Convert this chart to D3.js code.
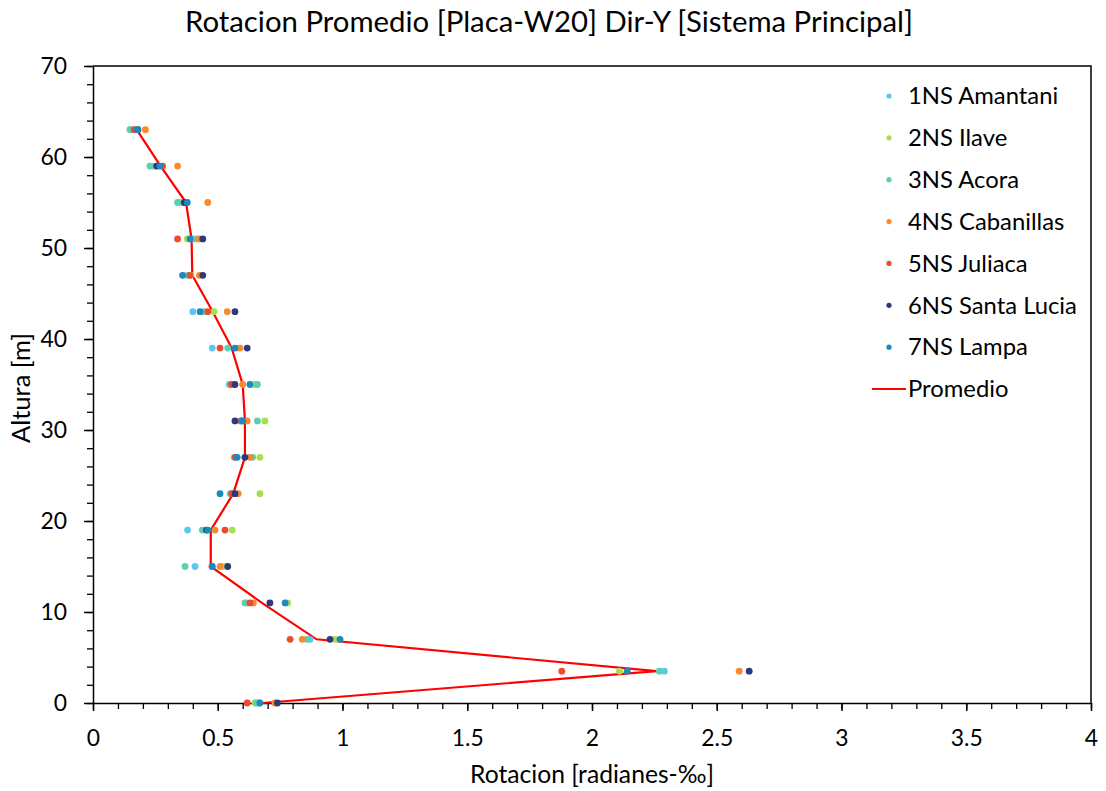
<!DOCTYPE html>
<html>
<head>
<meta charset="utf-8">
<script src="https://cdn.jsdelivr.net/npm/d3@7"></script>
<style>
  body { margin: 0; background: #fff; }
  svg { display: block; }
  text { font-family: Lato, "Open Sans", sans-serif; fill: #000; }
</style>
</head>
<body>
<svg id="chart" width="1106" height="791"></svg>
<script>
// Story heights [m]
const heights = [0, 3.5, 7, 11, 15, 19, 23, 27, 31, 35, 39, 43, 47, 51, 55, 59, 63];

// Rotation per record [radianes-‰], one value per height
const amantani    = [0.665, 2.290, 0.870, 0.615, 0.409, 0.379, 0.550, 0.566, 0.590, 0.546, 0.478, 0.400, 0.385, 0.418, 0.360, 0.240, 0.150];
const ilave       = [0.649, 2.110, 0.970, 0.780, 0.522, 0.558, 0.669, 0.669, 0.689, 0.649, 0.580, 0.485, 0.392, 0.378, 0.350, 0.250, 0.160];
const acora       = [0.655, 2.270, 0.856, 0.609, 0.369, 0.438, 0.560, 0.640, 0.659, 0.659, 0.540, 0.446, 0.378, 0.402, 0.339, 0.228, 0.148];
const cabanillas  = [0.729, 2.590, 0.839, 0.643, 0.509, 0.489, 0.582, 0.629, 0.618, 0.600, 0.589, 0.538, 0.426, 0.426, 0.460, 0.339, 0.210];
const juliaca     = [0.618, 1.879, 0.790, 0.629, 0.477, 0.529, 0.556, 0.570, 0.595, 0.555, 0.509, 0.460, 0.389, 0.339, 0.370, 0.279, 0.165];
const santaLucia  = [0.739, 2.630, 0.950, 0.709, 0.540, 0.455, 0.569, 0.609, 0.569, 0.569, 0.618, 0.569, 0.440, 0.440, 0.366, 0.255, 0.180];
const lampa       = [0.669, 2.141, 0.990, 0.770, 0.478, 0.460, 0.509, 0.578, 0.600, 0.629, 0.569, 0.429, 0.359, 0.389, 0.378, 0.268, 0.178];
const promedio    = [0.680, 2.259, 0.896, 0.677, 0.472, 0.472, 0.562, 0.609, 0.609, 0.600, 0.556, 0.480, 0.398, 0.395, 0.373, 0.271, 0.175];

const seriesNames  = ["1NS Amantani", "2NS Ilave", "3NS Acora", "4NS Cabanillas", "5NS Juliaca", "6NS Santa Lucia", "7NS Lampa"];
const seriesValues = [amantani, ilave, acora, cabanillas, juliaca, santaLucia, lampa];
const seriesColors = ["#5bc8ef", "#a6e04c", "#5ccfae", "#f68a2c", "#ee4a2d", "#2c3a7c", "#1b8bbf"];
const lineName = "Promedio";
const lineColor = "#ff0000";

const xTicks = [0, 0.5, 1, 1.5, 2, 2.5, 3, 3.5, 4];
const yTicks = [0, 10, 20, 30, 40, 50, 60, 70];

const titleText = "Rotacion Promedio [Placa-W20] Dir-Y [Sistema Principal]";
const xTitle = "Rotacion [radianes-\u2030]";
const yTitle = "Altura [m]";

// ---- layout ----
const svg = d3.select("#chart");
const plot = { left: 93, right: 1091, top: 66, bottom: 703 };

const x = d3.scaleLinear().domain([0, 4]).range([plot.left, plot.right]);
const y = d3.scaleLinear().domain([0, 70]).range([plot.bottom, plot.top]);

// size a text element so its rendered width equals the given width
function fitWidth(sel, width) {
  sel.style("font-size", "20px");
  const w = sel.node().getComputedTextLength();
  sel.style("font-size", (20 * width / w).toFixed(2) + "px");
}

// frame (top and right edges)
svg.append("path")
  .attr("d", `M${plot.left},${plot.top}H${plot.right}V${plot.bottom}`)
  .attr("fill", "none").attr("stroke", "#000").attr("stroke-width", 1.5);

// minor ticks
svg.append("g").attr("transform", `translate(${plot.left},0)`)
  .call(d3.axisLeft(y).tickValues(d3.range(0, 71, 2)).tickSize(6).tickFormat(""))
  .call(g => g.select(".domain").remove())
  .selectAll("line").attr("stroke-width", 1.3);
svg.append("g").attr("transform", `translate(0,${plot.bottom})`)
  .call(d3.axisBottom(x).tickValues(d3.range(0, 4.01, 0.1)).tickSize(6).tickFormat(""))
  .call(g => g.select(".domain").remove())
  .selectAll("line").attr("stroke-width", 1.3);

// major axes
const yAxis = svg.append("g").attr("transform", `translate(${plot.left},0)`)
  .call(d3.axisLeft(y).tickValues(yTicks).tickSize(9).tickPadding(17).tickSizeOuter(0).tickFormat(d3.format("d")));
const xAxis = svg.append("g").attr("transform", `translate(0,${plot.bottom})`)
  .call(d3.axisBottom(x).tickValues(xTicks).tickSize(8).tickPadding(19).tickSizeOuter(0).tickFormat(d => String(d)));
[yAxis, xAxis].forEach(g => {
  g.select(".domain").attr("stroke-width", 1.5);
  g.selectAll(".tick line").attr("stroke-width", 1.5);
  g.selectAll("text").attr("fill", "#000").style("font-family", "Lato, sans-serif");
});

// tick label size taken from the "3.5" label
const probe = xAxis.selectAll(".tick text").filter(d => d === 3.5);
fitWidth(probe, 32);
const tickFont = probe.style("font-size");
xAxis.selectAll(".tick text").style("font-size", tickFont);
yAxis.selectAll(".tick text").style("font-size", tickFont);

// average line
svg.append("path")
  .datum(heights.map((h, i) => [promedio[i], h]))
  .attr("fill", "none")
  .attr("stroke", lineColor)
  .attr("stroke-width", 2.2)
  .attr("stroke-linejoin", "miter")
  .attr("d", d3.line().x(d => x(d[0])).y(d => y(d[1])));

// record points
seriesValues.forEach((vals, s) => {
  svg.append("g").selectAll("circle")
    .data(heights.map((h, i) => [vals[i], h]))
    .join("circle")
    .attr("cx", d => x(d[0]))
    .attr("cy", d => y(d[1]))
    .attr("r", 3.4)
    .attr("fill", seriesColors[s]);
});

// title
const title = svg.append("text")
  .attr("x", 549).attr("y", 32)
  .attr("text-anchor", "middle")
  .text(titleText);
fitWidth(title, 728);

// axis titles
const xt = svg.append("text")
  .attr("x", 592).attr("y", 783)
  .attr("text-anchor", "middle")
  .text(xTitle);
fitWidth(xt, 244);

const yt = svg.append("text")
  .attr("transform", "translate(30,388) rotate(-90)")
  .attr("text-anchor", "middle")
  .text(yTitle);
fitWidth(yt, 110);

// legend
const legend = svg.append("g");
const legendRows = seriesNames.map((n, i) => ({ name: n, color: seriesColors[i], type: "dot" }))
  .concat([{ name: lineName, color: lineColor, type: "line" }]);
const rowY = d3.scaleLinear().domain([0, 7]).range([96, 389]);
legendRows.forEach((r, i) => {
  const cy = rowY(i);
  if (r.type === "dot") {
    legend.append("circle").attr("cx", 889).attr("cy", cy).attr("r", 2.6).attr("fill", r.color);
  } else {
    legend.append("line").attr("x1", 872).attr("x2", 906).attr("y1", cy).attr("y2", cy)
      .attr("stroke", r.color).attr("stroke-width", 2);
  }
  legend.append("text").attr("class", "leg")
    .attr("x", 908).attr("y", cy).attr("dy", "0.35em")
    .text(r.name);
});
const legProbe = legend.selectAll("text.leg").filter(function() { return this.textContent === "6NS Santa Lucia"; });
fitWidth(legProbe, 169);
legend.selectAll("text.leg").style("font-size", legProbe.style("font-size"));
</script>
</body>
</html>
